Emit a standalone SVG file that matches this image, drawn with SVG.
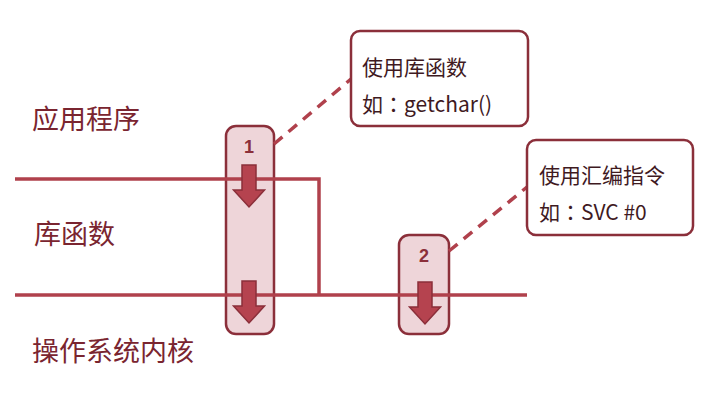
<svg xmlns="http://www.w3.org/2000/svg" width="722" height="404" viewBox="0 0 722 404">
<defs>
<style>
.lbl{font-family:"Noto Sans CJK SC","Noto Sans",sans-serif;fill:#7a2530;font-size:27px}
.ct{font-family:"Noto Sans CJK SC","Noto Sans",sans-serif;fill:#3f1a1f;font-size:21px}
.colon{font-family:"Noto Sans CJK TC",sans-serif}
.num{font-family:"Liberation Sans",Arial,sans-serif;font-weight:bold;fill:#8b2f3a;font-size:18px;text-anchor:middle}
.layer{stroke:#b0414c;stroke-width:3.5;fill:none}
.dash{stroke:#b0414c;stroke-width:3.5;fill:none;stroke-dasharray:11,8}
.pill{fill:#eed5d9;stroke:#8b2f3a;stroke-width:2.5}
.call{fill:#fff;stroke:#8b2f3a;stroke-width:2.5}
.arr{fill:#b5434f;stroke:#8b2f3a;stroke-width:1.5}
</style>
<path id="dn" d="M-7,0 H7 V25 H15.5 L0,42 L-15.5,25 H-7 Z"/>
</defs>
<g id="labels">
<text class="lbl" x="32" y="129">应用程序</text>
<text class="lbl" x="34" y="244">库函数</text>
<text class="lbl" x="32" y="361">操作系统内核</text>
</g>
<g id="step1">
<rect class="pill" x="226" y="126" width="48" height="208" rx="10"/>
<text class="num" x="249" y="153">1</text>
</g>
<g id="step2">
<rect class="pill" x="399" y="235" width="50" height="99" rx="10"/>
<text class="num" x="424" y="262">2</text>
</g>
<g id="connectors">
<path class="layer" d="M15,179 H319 V295"/>
<path class="layer" d="M15,295 H527"/>
<path class="dash" d="M274,144 L351,79"/>
<path class="dash" d="M449,251 L527,187"/>
</g>
<g id="arrows">
<use href="#dn" class="arr" x="249" y="165"/>
<use href="#dn" class="arr" x="249" y="281"/>
<use href="#dn" class="arr" x="425" y="282"/>
</g>
<g id="callout1">
<rect class="call" x="351" y="31" width="177" height="95" rx="9"/>
<text class="ct" x="362" y="75">使用库函数</text>
<text class="ct" x="362" y="112">如<tspan class="colon">：</tspan>getchar()</text>
</g>
<g id="callout2">
<rect class="call" x="527" y="140" width="166" height="95" rx="9"/>
<text class="ct" x="539" y="183">使用汇编指令</text>
<text class="ct" x="539" y="220">如<tspan class="colon">：</tspan>SVC #0</text>
</g>
</svg>
